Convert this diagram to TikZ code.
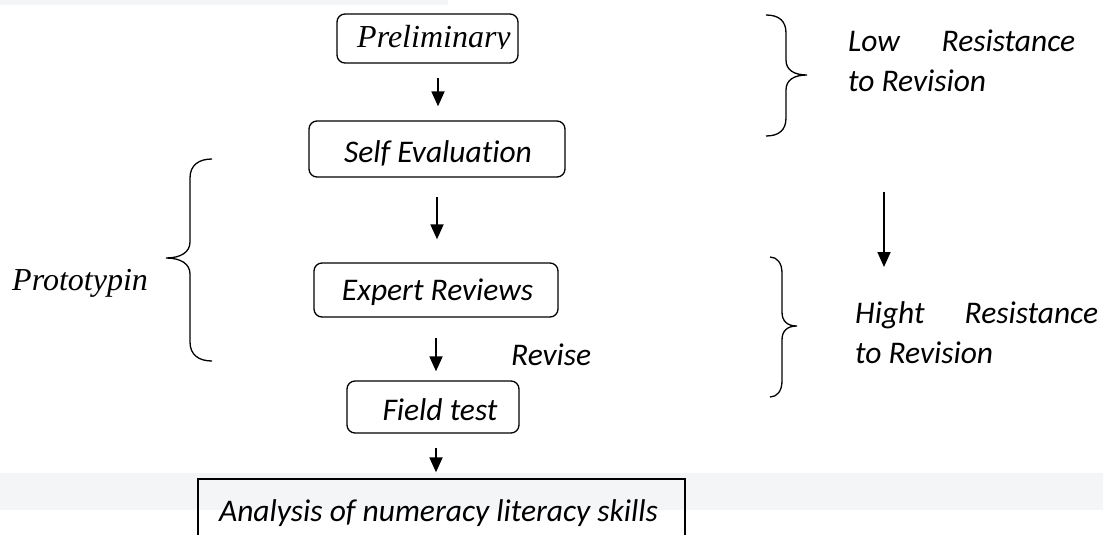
\documentclass[tikz,border=0pt]{standalone}
\usepackage{fontspec}
\setmainfont{Carlito}[Ligatures=NoCommon]
\newfontfamily\tms{Liberation Serif}
\usetikzlibrary{arrows.meta}
\definecolor{bandgrey}{HTML}{F4F5F7}
\tikzset{
  box/.style={draw, line width=1.3pt, rounded corners=8pt, inner sep=0pt},
  sqbox/.style={draw, line width=1.3pt, inner sep=0pt},
  lbl/.style={anchor=base, inner sep=0pt, font=\fontsize{31.5}{40}\selectfont\itshape},
  lblw/.style={anchor=base west, inner sep=0pt, font=\fontsize{31.5}{40}\selectfont\itshape},
  tlbl/.style={anchor=base west, inner sep=0pt, font=\fontsize{32}{40}\selectfont\tms\itshape},
  arr/.style={line width=1.8pt, -{Triangle[width=13pt,length=15pt]}},
  brace/.style={line width=1.3pt}
}
\begin{document}
\begin{tikzpicture}[x=1pt,y=-1pt]
\useasboundingbox (0,0) rectangle (1103,535);
% background bands
\fill[bandgrey] (0,0) rectangle (448,5);
\fill[bandgrey] (0,473) rectangle (1103,510);

% boxes
\node[box, minimum width=181pt, minimum height=49pt] (prelim) at (427.5,38.5) {};
\node[box, minimum width=256pt, minimum height=56pt] (self) at (437,149) {};
\node[box, minimum width=244pt, minimum height=54pt] (expert) at (436,290) {};
\node[box, minimum width=172pt, minimum height=52pt] (field) at (433,407) {};
\node[sqbox, minimum width=487pt, minimum height=81pt] (analysis) at (441.5,519.5) {};

% texts
\begin{scope}
  \clip (337,14) rectangle (517,48.5);
  \node[tlbl] (prelimtxt) at (357,48) {Preliminary};
\end{scope}
\node[lbl] (selftxt) at (438,162) {Self Evaluation};
\node[lbl] (experttxt) at (437.5,300) {Expert Reviews};
\node[lbl] (fieldtxt) at (440,420) {Field test};
\node[lbl] (analysistxt) at (438.5,521) {Analysis of numeracy literacy skills};
\node[lblw] (revise) at (511,365) {Revise};
\node[tlbl] (proto) at (12,290) {Prototypin};
\node[lblw, align=left] (low) at (848,92) {\makebox[227pt][s]{Low Resistance}\\to Revision};
\node[lblw, align=left] (high) at (855,363) {\makebox[243pt][s]{Hight Resistance}\\to Revision};

% arrows
\draw[arr] ([xshift=10.5pt,yshift=-14pt]prelim.south) -- ([xshift=1pt,yshift=14pt]self.north);
\draw[arr] ([xshift=0pt,yshift=-19pt]self.south) -- ([xshift=1pt,yshift=23pt]expert.north);
\draw[arr] ([xshift=0pt,yshift=-20pt]expert.south) -- ([xshift=3pt,yshift=9pt]field.north);
\draw[arr] ([xshift=3pt,yshift=-14pt]field.south) -- ([xshift=-5.5pt,yshift=6pt]analysis.north);
\coordinate (rtop) at (884,192);
\coordinate (rbot) at (884,267);
\draw[arr] (rtop) -- (rbot);

% braces
\draw[brace] (212,159) .. controls (199,159) and (190,165) .. (190,178)
  -- (190,242) .. controls (190,252) and (181,258) .. (166,258)
  .. controls (181,258) and (190,264) .. (190,274)
  -- (190,342) .. controls (190,355) and (199,361) .. (212,361);
\draw[brace] (766,15) .. controls (779,15) and (786,21) .. (786,33)
  -- (786,60) .. controls (786,70) and (794,75) .. (807,75)
  .. controls (794,75) and (786,80) .. (786,90)
  -- (786,118) .. controls (786,130) and (779,136) .. (766,136);
\draw[brace] (770,257) .. controls (777,257) and (782,263) .. (782,273)
  -- (782,312) .. controls (782,321) and (787,326) .. (797,326)
  .. controls (787,326) and (782,331) .. (782,340)
  -- (782,381) .. controls (782,391) and (777,397) .. (770,397);
\end{tikzpicture}
\end{document}
